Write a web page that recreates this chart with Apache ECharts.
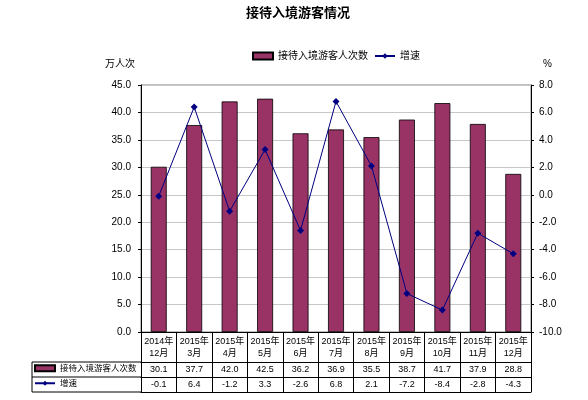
<!DOCTYPE html>
<html>
<head>
<meta charset="utf-8">
<script src="https://cdn.jsdelivr.net/npm/echarts@6/dist/echarts.min.js"></script>
<style>html,body{margin:0;padding:0;background:#fff}#c{width:588px;height:400px}</style>
</head>
<body>
<div id="c"></div>
<script>
var categories = ['2014年\n12月','2015年\n3月','2015年\n4月','2015年\n5月','2015年\n6月','2015年\n7月','2015年\n8月','2015年\n9月','2015年\n10月','2015年\n11月','2015年\n12月'];
var visitors = [30.1, 37.7, 42.0, 42.5, 36.2, 36.9, 35.5, 38.7, 41.7, 37.9, 28.8];
var growth = [-0.1, 6.4, -1.2, 3.3, -2.6, 6.8, 2.1, -7.2, -8.4, -2.8, -4.3];
var barName = '接待入境游客人次数';
var lineName = '增速';
var leftTicks = {min: 0, max: 45, interval: 5};
var rightTicks = {min: -10, max: 8, interval: 2};

var FONT = "'Liberation Sans','Noto Sans CJK SC',sans-serif";
var chart = echarts.init(document.getElementById('c'));

function tableAxis(data, offset, tickLen, margin, lh) {
  return {
    type: 'category', position: 'bottom', offset: offset, gridIndex: 0,
    data: data,
    axisLine: {show: true, onZero: false, lineStyle: {color: '#000', width: 1}},
    axisTick: {show: tickLen > 0, length: tickLen, lineStyle: {color: '#000', width: 1}},
    axisLabel: {show: true, interval: 0, margin: margin, color: '#000', fontSize: 9, fontFamily: FONT, lineHeight: lh},
    splitLine: {show: false}
  };
}

var L = 32, G = 141, R1 = 362, R2 = 377, R3 = 392;
chart.setOption({
  animation: false,
  backgroundColor: '#fff',
  title: {text: '接待入境游客情况', left: 246, top: 7, padding: 0,
    textStyle: {fontSize: 13, fontWeight: 'bold', color: '#000', fontFamily: FONT}},
  legend: [{
    top: 51, left: 252, padding: 0, itemWidth: 20, itemHeight: 7, itemGap: 6,
    textStyle: {fontSize: 10, color: '#000', fontFamily: FONT},
    data: [{name: barName, icon: 'rect'}, {name: lineName}]
  }, {
    left: 34, top: 364, itemWidth: 20, itemHeight: 6, padding: 0,
    textStyle: {fontSize: 8.5, color: '#000', fontFamily: FONT},
    selectedMode: false,
    data: [{name: barName, icon: 'rect'}]
  }, {
    left: 34, top: 379, itemWidth: 20, itemHeight: 6, padding: 0,
    textStyle: {fontSize: 8.5, color: '#000', fontFamily: FONT},
    selectedMode: false,
    data: [{name: lineName}]
  }],
  grid: {left: G, right: 57, top: 85, bottom: 68, show: true, borderColor: '#808080', borderWidth: 1},
  xAxis: [
    tableAxis(categories, 0, 30, 4, 12),
    tableAxis(visitors.map(function(v){return v.toFixed(1);}), 30, 15, 3, 10),
    tableAxis(growth.map(function(v){return v.toFixed(1);}), 45, 15, 3, 10),
    tableAxis(categories.map(function(){return '';}), 60, 0, 0, 10)
  ],
  yAxis: [{
    type: 'value', min: leftTicks.min, max: leftTicks.max, interval: leftTicks.interval,
    name: '万人次', nameLocation: 'end', nameGap: 16,
    nameTextStyle: {fontSize: 10, color: '#000', fontFamily: FONT, align: 'right', padding: [0, 6, 0, 0]},
    axisLine: {show: true, lineStyle: {color: '#000'}},
    axisTick: {show: true, length: 3, lineStyle: {color: '#000'}},
    axisLabel: {color: '#000', fontSize: 10, fontFamily: FONT, margin: 10, formatter: function(v){return v.toFixed(1);}},
    splitLine: {show: true, lineStyle: {color: '#c8c8c8', width: 1}}
  }, {
    type: 'value', min: rightTicks.min, max: rightTicks.max, interval: rightTicks.interval,
    name: '%', nameLocation: 'end', nameGap: 16,
    nameTextStyle: {fontSize: 10, color: '#000', fontFamily: FONT, align: 'left', padding: [0, 0, 0, 12]},
    axisLine: {show: true, lineStyle: {color: '#000'}},
    axisTick: {show: true, length: 3, lineStyle: {color: '#000'}},
    axisLabel: {color: '#000', fontSize: 10, fontFamily: FONT, margin: 8, formatter: function(v){return v.toFixed(1);}},
    splitLine: {show: false}
  }],
  series: [{
    name: barName, type: 'bar', xAxisIndex: 0, yAxisIndex: 0, data: visitors,
    barWidth: '45%',
    itemStyle: {color: '#993366', borderColor: '#000', borderWidth: 0.8}
  }, {
    name: lineName, type: 'line', xAxisIndex: 0, yAxisIndex: 1, data: growth,
    symbol: 'diamond', symbolSize: 7,
    lineStyle: {color: '#000080', width: 1},
    itemStyle: {color: '#000080'}
  }],
  graphic: [
    {type: 'line', shape: {x1: L, y1: R1, x2: G, y2: R1}, style: {stroke: '#000', lineWidth: 1}},
    {type: 'line', shape: {x1: L, y1: R2, x2: G, y2: R2}, style: {stroke: '#000', lineWidth: 1}},
    {type: 'line', shape: {x1: L, y1: R3, x2: G, y2: R3}, style: {stroke: '#000', lineWidth: 1}},
    {type: 'line', shape: {x1: L, y1: R1, x2: L, y2: R3}, style: {stroke: '#000', lineWidth: 1}}
  ]
});
</script>
</body>
</html>
